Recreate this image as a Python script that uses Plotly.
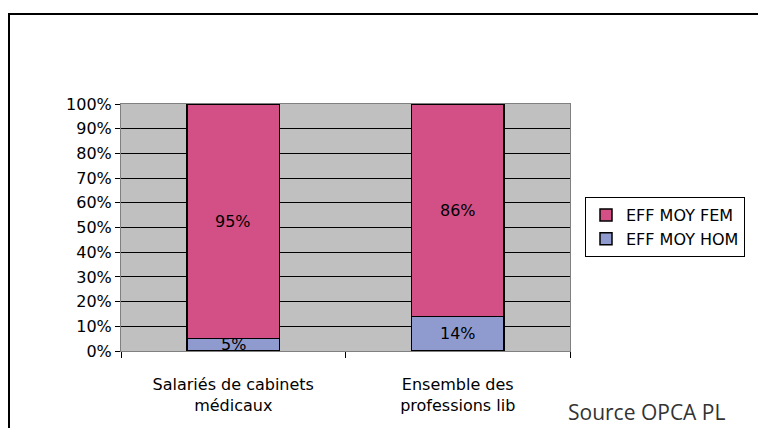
import plotly.graph_objects as go

categories = ["Salariés de cabinets<br>médicaux", "Ensemble des<br>professions lib"]
hom_values = [5, 14]
fem_values = [95, 86]
hom_labels = ["5%", "14%"]
fem_labels = ["95%", "86%"]
y_ticks = list(range(0, 101, 10))
y_tick_labels = [f"{v}%" for v in y_ticks]

PINK = "#D35087"
BLUE = "#8F9BCF"
FONT = "DejaVu Sans, Arial, sans-serif"
FS = 16

fig = go.Figure()
fig.add_trace(go.Bar(x=categories, y=hom_values, name="EFF MOY HOM",
                     marker=dict(color=BLUE, line=dict(color="black", width=1.5)),
                     width=0.41, hoverinfo="skip"))
fig.add_trace(go.Bar(x=categories, y=fem_values, name="EFF MOY FEM",
                     marker=dict(color=PINK, line=dict(color="black", width=1.5)),
                     width=0.41, hoverinfo="skip"))

annotations = []
for i, c in enumerate(categories):
    annotations.append(dict(x=c, y=hom_values[i] / 2, text=hom_labels[i], showarrow=False,
                            xref="x", yref="y", font=dict(family=FONT, size=FS, color="black")))
    annotations.append(dict(x=c, y=hom_values[i] + fem_values[i] / 2, text=fem_labels[i], showarrow=False,
                            xref="x", yref="y", font=dict(family=FONT, size=FS, color="black")))

annotations.append(dict(x=1.0, y=0.0, xref="paper", yref="paper", xanchor="left", yanchor="bottom",
                        xshift=-4, yshift=-77,
                        text="Source OPCA PL", showarrow=False,
                        font=dict(family="Open Sans, Lato, sans-serif", size=21, color="#333333")))

L, R, T, B = 121, 570, 104, 351
W, H = R - L, B - T
def px_x(p):
    return (p - L) / W
def px_y(p):
    return (B - p) / H

fig.add_shape(type="rect", xref="paper", yref="paper",
              x0=px_x(9), x1=px_x(800), y0=px_y(470), y1=px_y(14),
              line=dict(color="black", width=2), fillcolor="rgba(0,0,0,0)", layer="above")

fig.update_layout(
    barmode="stack",
    width=758, height=428,
    margin=dict(l=L, r=758 - R, t=T, b=428 - B),
    paper_bgcolor="white",
    plot_bgcolor="#C0C0C0",
    bargap=0.59,
    showlegend=True,
    legend=dict(x=px_x(585), y=px_y(197), xanchor="left", yanchor="top",
                traceorder="reversed", bgcolor="white", bordercolor="black", borderwidth=1,
                font=dict(family=FONT, size=FS, color="black"), itemwidth=30,
                tracegroupgap=0),
    annotations=annotations,
    xaxis=dict(showgrid=False, ticks="outside", ticklen=6, tickcolor="black", tickson="boundaries",
               showline=True, linecolor="black", linewidth=1,
               tickfont=dict(family=FONT, size=FS, color="black"), ticklabelstandoff=19),
    yaxis=dict(range=[0, 100], tickvals=y_ticks, ticktext=y_tick_labels,
               showgrid=True, gridcolor="black", gridwidth=1,
               ticks="outside", ticklen=5, tickcolor="black",
               showline=True, linecolor="#808080", linewidth=1, mirror=True,
               zeroline=False,
               tickfont=dict(family=FONT, size=FS, color="black")),
)
fig.update_xaxes(mirror=True, linecolor="#808080")

fig.write_html("out.html", config={"displayModeBar": False},
               post_script="document.body.style.margin='0';document.body.style.overflow='hidden';")
